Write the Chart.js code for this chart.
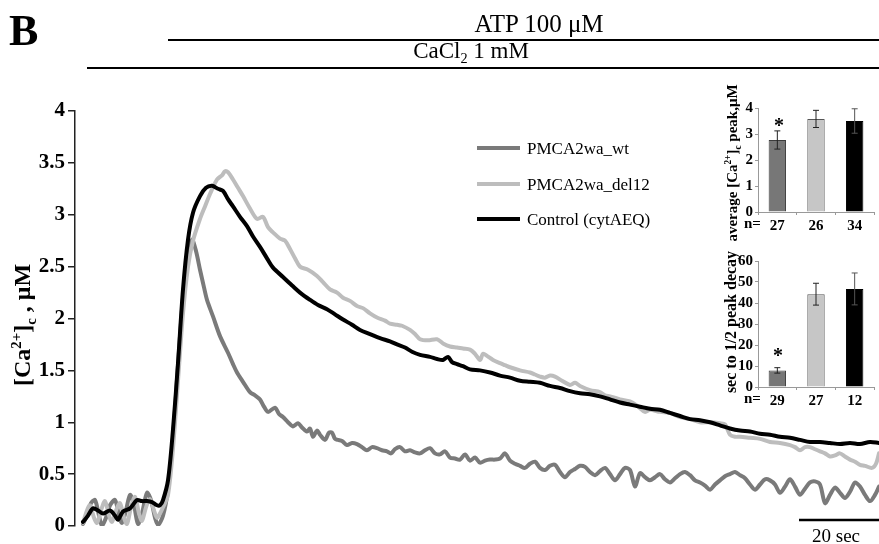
<!DOCTYPE html>
<html><head><meta charset="utf-8">
<script src="https://cdn.jsdelivr.net/npm/chart.js@4"></script>
<style>
html,body{margin:0;padding:0;background:#fff;}
#wrap{position:relative;width:879px;height:544px;overflow:hidden;font-family:"Liberation Serif","Times New Roman",serif;color:#000;}
canvas{position:absolute;}
.t{position:absolute;white-space:nowrap;line-height:1;transform:translate(-50%,-50%);}
.l{position:absolute;white-space:nowrap;line-height:1;transform:translate(0,-50%);}
.rot{transform:translate(-50%,-50%) rotate(-90deg);}
sub,sup{font-size:62%;line-height:0;}
.sw{position:absolute;width:43px;height:4px;}
</style></head><body>
<div id="wrap">
<canvas id="main" width="879" height="544" style="left:0;top:0;"></canvas>
<canvas id="ins1" width="189" height="170" style="left:690px;top:75px;"></canvas>
<canvas id="ins2" width="189" height="170" style="left:690px;top:250px;"></canvas>

<div class="l" style="left:9px;top:31px;font-size:44px;font-weight:bold;">B</div>
<div class="t" style="left:539px;top:23px;font-size:25px;">ATP 100 μM</div>
<div class="t" style="left:471px;top:50px;font-size:23px;">CaCl<sub>2</sub> 1 mM</div>
<div class="t rot" style="left:22px;top:325px;font-size:24px;font-weight:bold;">[Ca<sup>2+</sup>]<sub>c</sub> , μM</div>

<div class="sw" style="left:477px;top:146px;background:#7a7a7a;"></div>
<div class="l" style="left:527px;top:148px;font-size:17px;">PMCA2wa_wt</div>
<div class="sw" style="left:477px;top:182px;background:#bdbdbd;"></div>
<div class="l" style="left:527px;top:184px;font-size:17px;">PMCA2wa_del12</div>
<div class="sw" style="left:477px;top:217px;background:#000;"></div>
<div class="l" style="left:527px;top:219px;font-size:17px;">Control (cytAEQ)</div>

<div class="t rot" style="left:732px;top:163px;font-size:15px;font-weight:bold;">average [Ca<sup>2+</sup>]<sub>c</sub> peak,μM</div>
<div class="t rot" style="left:731px;top:322px;font-size:16px;font-weight:bold;">sec to 1/2 peak decay</div>
<div class="l" style="left:744px;top:223px;font-size:15px;font-weight:bold;">n=</div>
<div class="l" style="left:744px;top:398px;font-size:15px;font-weight:bold;">n=</div>
<div class="t" style="left:779px;top:125px;font-size:20px;font-weight:bold;">*</div>
<div class="t" style="left:778px;top:355px;font-size:20px;font-weight:bold;">*</div>
<div class="t" style="left:836px;top:535px;font-size:19px;">20 sec</div>
</div>
<script>
// ---- main traces: time (s) and [Ca2+]c (µM) ----
const wtTime = [0,1,2,3,4,4.75,5.75,6.75,8,9,
9.75,10.75,11.75,12.75,13.75,14.75,16,17,18,18.75,
20,21.25,22.5,23.75,25,26.25,27.25,28.25,29.25,30.25,
31,32.5,34.25,36.25,37.5,38.5,40,41.75,43,44.25,
45.25,46.25,48,49,50,51.25,52.5,53.75,54.75,56,
56.75,57.5,58.5,59.25,60.5,61.5,62.25,63,63.75,64.75,
66,67.25,68.5,69.75,71,72.25,73.5,74.75,76,77,
78,79.25,
80.5,81.75,83,84.25,85.5,86.75,88,89.25,90.5,91.75,
93,94.25,95.5,96.75,98,99.25,100.5,101.75,103,104.25,
105.5,106.75,108,109.25,110.5,111.75,113,114.25,115.5,116.75,
118,119.25,120.5,121.75,123,124.25,125.5,126.75,128,129.25,
130.5,131.75,133,134.25,135.5,136.75,138,139.25,140.5,141.75,
143,144.25,145.5,146.75,148,149.25,150.5,151.75,153,154.25,
155.5,156.75,158,159.25,160.5,161.75,163,164.25,165.5,166.75,
168,169.25,170.5,171.75,173,174.25,175.5,176.75,178,179.25,
180.5,181.75,183,184.25,185.5,186.75,188,189.25,190.5,191.75,
193,194.25,195.5,196.75,198,199];
const wtValue = [0.02,0.1,0.22,0.25,0.1,0.0,0.08,0.2,0.25,0.1,
0.03,0.15,0.3,0.2,0.02,0.12,0.32,0.25,0.08,0.01,
0.1,0.35,0.85,1.55,2.2,2.62,2.76,2.65,2.47,2.3,
2.18,2.02,1.83,1.67,1.56,1.48,1.39,1.29,1.26,1.22,
1.15,1.10,1.14,1.08,1.05,1.0,0.96,0.99,0.95,0.91,
0.94,0.86,0.92,0.88,0.83,0.9,0.9,0.84,0.83,0.82,
0.78,0.80,0.79,0.76,0.73,0.76,0.75,0.73,0.72,0.70,
0.74,0.76,
0.72,0.73,0.71,0.70,0.73,0.75,0.70,0.69,0.72,0.66,
0.65,0.64,0.69,0.63,0.66,0.61,0.63,0.64,0.64,0.65,
0.70,0.63,0.60,0.58,0.56,0.60,0.62,0.56,0.54,0.58,
0.59,0.52,0.47,0.52,0.55,0.58,0.57,0.52,0.49,0.53,
0.56,0.50,0.44,0.50,0.56,0.54,0.38,0.51,0.47,0.44,
0.47,0.50,0.45,0.42,0.46,0.50,0.52,0.49,0.44,0.42,
0.39,0.35,0.40,0.44,0.48,0.50,0.52,0.49,0.46,0.40,
0.35,0.40,0.45,0.44,0.40,0.32,0.38,0.45,0.38,0.30,
0.36,0.42,0.43,0.40,0.22,0.30,0.37,0.32,0.27,0.33,
0.42,0.38,0.30,0.24,0.30,0.38];

const delTime = [0,1,1.75,2.75,3.5,4.5,5.5,6.5,7.25,8.25,
9.25,10.25,11,12,13,14,14.75,15.75,16.75,17.75,
18.5,19.25,20,21.25,22.5,23.75,25,26.25,27.5,29.25,
30.5,31.75,33.5,34.75,35.5,36.25,37.5,38.75,40,41.75,
43.5,45,46.25,47.5,49.25,50.5,51.75,53,54.25,56.25,
58.5,60,61.75,63.5,65,66.75,68.5,70,71.75,73.5,
75.5,76.75,78.5,79.75,81.75,83,84.25,86.25,88.5,90,
91.75,93.5,95,96.75,98,99.25,100,101,102.5,104.25,
105.5,106.75,109.25,111.75,113,114.25,115.5,116.75,118,119.75,
121.75,123,124.25,126.75,129.25,130.5,131.75,134.25,136.75,138.5,
140.5,141.75,144.25,146.75,149.25,151.75,154.25,156.75,159.25,160.5,
161.75,163,164.25,166.75,169.25,171.75,174.25,176.75,178,179.25,
180.5,181.75,183,184.25,185.5,186.75,188,189.25,190.5,191.75,
193,194.25,195.5,197.25,198.25,199];
const delValue = [0.03,0.15,0.2,0.08,0.03,0.15,0.24,0.1,0.04,0.15,
0.22,0.08,0.02,0.18,0.28,0.12,0.05,0.18,0.26,0.15,
0.08,0.12,0.18,0.3,0.75,1.4,2.05,2.5,2.75,2.96,
3.08,3.2,3.34,3.38,3.42,3.41,3.34,3.26,3.18,3.06,
2.96,2.98,2.88,2.83,2.77,2.75,2.67,2.58,2.50,2.47,
2.41,2.35,2.28,2.25,2.20,2.17,2.12,2.10,2.05,2.01,
1.98,1.95,1.94,1.93,1.89,1.85,1.80,1.79,1.80,1.76,
1.73,1.72,1.71,1.70,1.66,1.60,1.66,1.64,1.60,1.57,
1.55,1.53,1.50,1.48,1.46,1.44,1.43,1.45,1.44,1.40,
1.36,1.38,1.35,1.31,1.29,1.26,1.25,1.22,1.20,1.16,
1.10,1.12,1.10,1.09,1.05,1.03,1.00,1.00,0.99,0.98,
0.88,0.86,0.86,0.85,0.84,0.81,0.80,0.78,0.76,0.73,
0.76,0.76,0.74,0.72,0.70,0.67,0.68,0.70,0.67,0.64,
0.62,0.59,0.58,0.56,0.6,0.70];

const ctlTime = [0,1.25,2.5,3.75,5,6.75,8,8.75,10,11.75,
13.5,14.75,16,17.25,18.5,19.25,20,21.25,22.5,23.75,
25,26.25,27.5,29.25,30.75,32.25,33.75,35,36.25,37.5,
39.25,41,42.5,44.25,46,47.5,50,52.5,54.25,56.75,
58.75,61,63,65,67.25,69.25,71.75,74.25,76.75,78.5,
80.5,82.25,84.25,86.75,88.5,90,91.25,92.25,93.5,95,
96.75,99.25,101.75,104.25,106.75,109.25,111.75,114.25,116.75,119.25,
121.75,124.25,126.75,129.25,131.75,134.25,136.75,139.25,141.75,144.25,
146.75,149.25,151.75,154.25,156.75,159.25,161.75,164.25,166.75,169.25,
171.75,174.25,176.75,179.25,181.75,184.25,186.75,189.25,191.75,194.25,
196.75,199];
const ctlValue = [0.04,0.10,0.17,0.15,0.12,0.15,0.10,0.06,0.14,0.17,
0.25,0.24,0.24,0.23,0.20,0.20,0.25,0.44,0.93,1.57,
2.28,2.76,3.02,3.18,3.26,3.28,3.25,3.23,3.15,3.08,
2.98,2.89,2.79,2.69,2.58,2.49,2.40,2.31,2.25,2.18,
2.13,2.09,2.04,1.99,1.94,1.89,1.85,1.81,1.78,1.75,
1.72,1.68,1.65,1.63,1.61,1.60,1.63,1.58,1.56,1.54,
1.51,1.50,1.48,1.45,1.43,1.40,1.39,1.38,1.35,1.33,
1.30,1.28,1.27,1.25,1.22,1.19,1.17,1.15,1.13,1.12,
1.09,1.06,1.03,1.02,1.00,0.97,0.94,0.92,0.91,0.89,
0.88,0.86,0.85,0.83,0.81,0.81,0.80,0.79,0.80,0.79,
0.81,0.80];

const seriesNames = ['PMCA2wa_wt','PMCA2wa_del12','Control (cytAEQ)'];
const yTicks = [0,0.5,1,1.5,2,2.5,3,3.5,4];
// stimulus onsets (s) and scale bar length (s)
const atpStart = 21.25;
const caStart = 1;
const scaleBarSec = 20;

// ---- inset bar charts ----
const peakN = ['27','26','34'];
const peakMean = [2.77,3.58,3.50];
const peakErr = [0.35,0.33,0.47];
const decayN = ['29','27','12'];
const decayMean = [7.9,44.2,46.7];
const decayErr = [1.3,5.2,7.6];

const lineColors = ['#7a7a7a','#bdbdbd','#000000'];
const barFill = ['#777777','#c6c6c6','#000000'];
const barEdge = ['#3c3c3c','#555555','#000000'];

function pts(t,v){return t.map((x,i)=>({x:x,y:v[i]}));}

const overlay = {
  id:'overlay',
  afterDraw(c){
    const x=c.scales.x, ctx=c.ctx;
    ctx.save();
    ctx.strokeStyle='#000';
    ctx.lineWidth=2;
    ctx.beginPath();
    ctx.moveTo(x.getPixelForValue(atpStart),40); ctx.lineTo(x.getPixelForValue(x.max),40);
    ctx.moveTo(x.getPixelForValue(caStart),68); ctx.lineTo(x.getPixelForValue(x.max),68);
    ctx.stroke();
    ctx.lineWidth=2.5;
    ctx.beginPath();
    ctx.moveTo(x.getPixelForValue(x.max-scaleBarSec),520); ctx.lineTo(x.getPixelForValue(x.max),520);
    ctx.stroke();
    ctx.restore();
  }
};

new Chart(document.getElementById('main'),{
  type:'line',
  data:{datasets:[
    {label:seriesNames[0],data:pts(wtTime,wtValue),borderColor:lineColors[0],order:2},
    {label:seriesNames[1],data:pts(delTime,delValue),borderColor:lineColors[1],order:1},
    {label:seriesNames[2],data:pts(ctlTime,ctlValue),borderColor:lineColors[2],order:0}
  ].map(d=>Object.assign(d,{borderWidth:4,pointRadius:0,fill:false,tension:0.3,borderJoinStyle:'round',borderCapStyle:'round'}))},
  options:{
    responsive:false,animation:false,
    layout:{padding:{top:111,bottom:18,left:0,right:0}},
    plugins:{legend:{display:false},tooltip:{enabled:false}},
    scales:{
      x:{type:'linear',min:-2,max:199,display:false},
      y:{min:0,max:4,
        afterBuildTicks(s){s.ticks=yTicks.map(v=>({value:v}));},
        afterFit(s){s.width=75;},
        ticks:{color:'#000',padding:3,font:{family:'Liberation Serif',size:21,weight:'bold'},callback:v=>String(v)},
        grid:{display:true,drawOnChartArea:false,drawTicks:true,tickLength:7,color:'#222',lineWidth:1.5},
        border:{display:true,color:'#222',width:1.5}
      }
    }
  },
  plugins:[overlay]
});

const errPlugin = {
  id:'err',
  afterDatasetsDraw(c,args,opts){
    const y=c.scales.y, ctx=c.ctx, meta=c.getDatasetMeta(0);
    const mean=c.data.datasets[0].data, err=opts.err;
    ctx.save();
    ctx.lineWidth=1;
    meta.data.forEach((el,i)=>{
      const top=y.getPixelForValue(mean[i]+err[i]), bot=y.getPixelForValue(mean[i]-err[i]);
      ctx.strokeStyle= i===2 ? '#555' : '#222';
      ctx.beginPath();
      ctx.moveTo(el.x,top); ctx.lineTo(el.x,bot);
      ctx.moveTo(el.x-3,top); ctx.lineTo(el.x+3,top);
      ctx.moveTo(el.x-3,bot); ctx.lineTo(el.x+3,bot);
      ctx.stroke();
    });
    ctx.restore();
  }
};

function inset(id,labels,mean,err,max,step,topPad){
  new Chart(document.getElementById(id),{
    type:'bar',
    data:{labels:labels,datasets:[{data:mean,backgroundColor:barFill,borderColor:barEdge,borderWidth:1,barPercentage:0.9,categoryPercentage:0.5}]},
    options:{
      responsive:false,animation:false,
      layout:{padding:{top:topPad,right:5,left:0,bottom:13}},
      plugins:{legend:{display:false},tooltip:{enabled:false},err:{err:err}},
      scales:{
        x:{afterFit(s){s.height=20;},
          ticks:{color:'#000',padding:2,font:{family:'Liberation Serif',size:15,weight:'bold'}},
          grid:{display:true,drawOnChartArea:false,tickLength:3,color:'#999'},
          border:{display:true,color:'#999',width:1}},
        y:{min:0,max:max,afterFit(s){s.width=68;},
          ticks:{stepSize:step,color:'#000',padding:2,font:{family:'Liberation Serif',size:15,weight:'bold'}},
          grid:{display:true,drawOnChartArea:false,tickLength:3,color:'#999'},
          border:{display:true,color:'#999',width:1}}
      }
    },
    plugins:[errPlugin]
  });
}
inset('ins1',peakN,peakMean,peakErr,4,1,33);
inset('ins2',decayN,decayMean,decayErr,60,10,10);
</script>
</body></html>
